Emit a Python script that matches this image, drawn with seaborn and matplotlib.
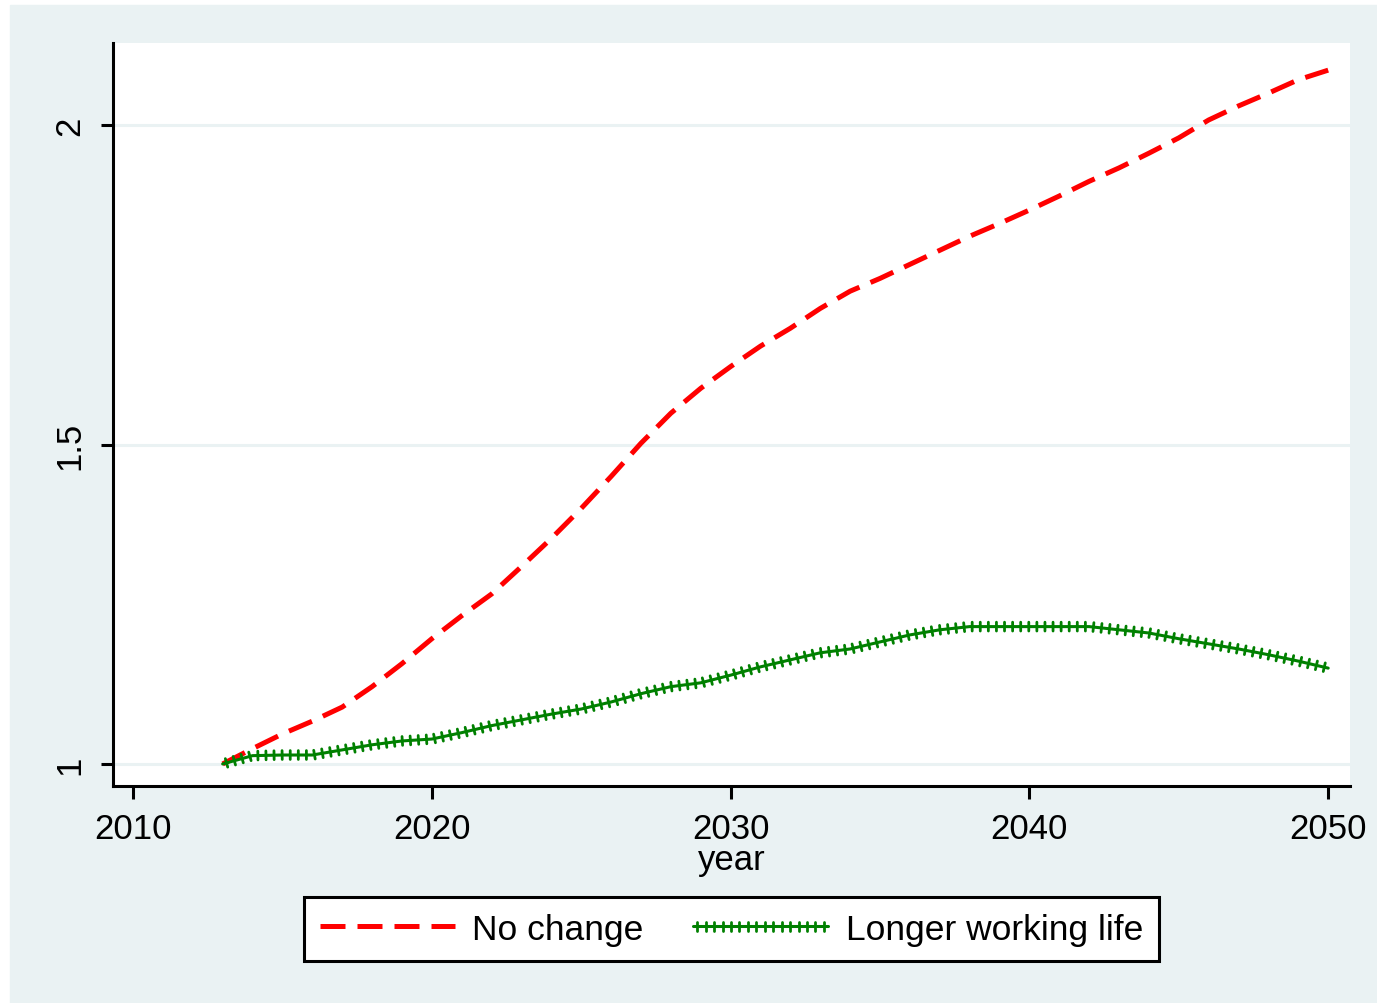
import matplotlib
matplotlib.use("Agg")
import matplotlib.pyplot as plt
import matplotlib.patheffects as pe
import seaborn as sns

years = list(range(2013, 2051))
no_change = [1.000, 1.024, 1.047, 1.067, 1.089, 1.121, 1.157, 1.196, 1.232, 1.266,
             1.309, 1.353, 1.400, 1.450, 1.502, 1.549, 1.588, 1.622, 1.654, 1.682,
             1.713, 1.740, 1.760, 1.782, 1.804, 1.826, 1.846, 1.867, 1.889, 1.912,
             1.933, 1.956, 1.980, 2.008, 2.030, 2.050, 2.071, 2.086]
longer_work = [1.000, 1.013, 1.014, 1.014, 1.022, 1.030, 1.036, 1.039, 1.049, 1.060,
               1.069, 1.078, 1.086, 1.097, 1.110, 1.121, 1.127, 1.139, 1.152, 1.163,
               1.174, 1.180, 1.191, 1.202, 1.210, 1.215, 1.215, 1.215, 1.215, 1.215,
               1.210, 1.205, 1.196, 1.188, 1.180, 1.171, 1.161, 1.150]
xticks = [2010, 2020, 2030, 2040, 2050]
yticks = [1, 1.5, 2]
ytick_labels = ["1", "1.5", "2"]

sns.set_style("white")
plt.rcParams['font.family'] = ['Liberation Sans', 'DejaVu Sans']
plt.rcParams['text.color'] = 'black'
plt.rcParams['axes.labelcolor'] = 'black'
plt.rcParams['xtick.color'] = 'black'
plt.rcParams['ytick.color'] = 'black'

bg = "#eaf2f3"
fig = plt.figure(figsize=(13.77, 10.04), dpi=100, facecolor="white")
fig.patches.append(plt.Rectangle((10 / 1377, 0), 1, 1 - 6 / 1004,
                                 transform=fig.transFigure, color=bg, zorder=-10))
ax = fig.add_axes([113 / 1377, 1 - 787 / 1004, (1350 - 113) / 1377, (787 - 44) / 1004])
ax.set_facecolor("white")

sns.lineplot(x=years, y=no_change, ax=ax, color="#ff0000", linewidth=3.6,
             label="No change")
ax.lines[-1].set_dashes([5, 2.4])
sns.lineplot(x=years, y=longer_work, ax=ax, color="#008000", linewidth=2.2,
             label="Longer working life")
ax.lines[-1].set_path_effects([
    pe.Normal(),
    pe.TickedStroke(spacing=5.8, angle=90, length=0.55, linewidth=2.0),
    pe.TickedStroke(spacing=5.8, angle=-90, length=0.55, linewidth=2.0),
])

ax.set_xlim(2009.33, 2050.73)
ax.set_ylim(0.9655, 2.1285)
ax.set_xticks(xticks)
ax.set_yticks(yticks)
ax.set_yticklabels(ytick_labels, rotation=90, va="center")
ax.tick_params(axis="both", direction="out", length=9, width=2.2, color="black",
               labelsize=25, pad=10, left=True, bottom=True)
ax.grid(axis="y", color=bg, linewidth=2.2)
ax.set_axisbelow(True)
for s in ["top", "right"]:
    ax.spines[s].set_visible(False)
for s in ["left", "bottom"]:
    ax.spines[s].set_color("black")
    ax.spines[s].set_linewidth(2.2)
ax.set_xlabel("year", fontsize=25, labelpad=-2)
ax.set_ylabel("")

handles, labels = ax.get_legend_handles_labels()
ax.get_legend().remove()
leg = fig.legend(handles, labels, loc="center", bbox_to_anchor=(731.5 / 1377, 0.0737),
                 ncol=2, fontsize=25.5, frameon=True, fancybox=False, handlelength=3.8,
                 columnspacing=1.4, borderpad=0.45, handletextpad=0.5)
leg.get_frame().set_edgecolor("black")
leg.get_frame().set_facecolor("white")
leg.get_frame().set_alpha(1)
leg.get_frame().set_linewidth(2.2)

fig.savefig("out.png", dpi=100, facecolor=fig.get_facecolor())
